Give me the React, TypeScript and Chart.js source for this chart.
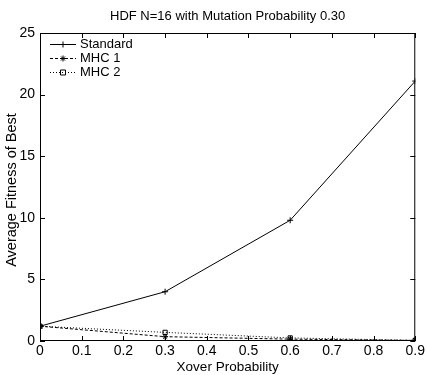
import React, { useEffect, useRef } from "react";
import { Chart, registerables } from "chart.js";

Chart.register(...registerables);

const xValues = [0, 0.3, 0.6, 0.9];
const standardValues = [1.2, 4.0, 9.8, 21.1];
const mhc1Values = [1.2, 0.35, 0.15, 0.05];
const mhc2Values = [1.2, 0.7, 0.25, 0.05];
const xTicks = [0, 0.1, 0.2, 0.3, 0.4, 0.5, 0.6, 0.7, 0.8, 0.9];
const yTicks = [0, 5, 10, 15, 20, 25];
const seriesNames = ["Standard", "MHC 1", "MHC 2"];
const titleText = "HDF N=16 with Mutation Probability 0.30";
const xTitle = "Xover Probability";
const yTitle = "Average Fitness of Best";

const NARROW = "'Liberation Sans Narrow', 'Liberation Sans', Arial, sans-serif";
const FONT = "'Liberation Sans', Arial, sans-serif";

const toPoints = (ys: number[]) => xValues.map((x, i) => ({ x, y: ys[i] }));

const dashes = [[], [3, 2], [1, 2]];
const styles = ["cross", "star", "rect"];

function drawMarker(ctx: CanvasRenderingContext2D, style: string, x: number, y: number) {
  ctx.save();
  ctx.setLineDash([]);
  ctx.lineWidth = 1;
  ctx.strokeStyle = "#000";
  ctx.beginPath();
  if (style === "cross") {
    ctx.moveTo(x - 3, y); ctx.lineTo(x + 3, y);
    ctx.moveTo(x, y - 3); ctx.lineTo(x, y + 3);
  } else if (style === "star") {
    ctx.moveTo(x - 3, y); ctx.lineTo(x + 3, y);
    ctx.moveTo(x, y - 3); ctx.lineTo(x, y + 3);
    ctx.moveTo(x - 2, y - 2); ctx.lineTo(x + 2, y + 2);
    ctx.moveTo(x - 2, y + 2); ctx.lineTo(x + 2, y - 2);
  } else {
    ctx.rect(x - 2.5, y - 2.5, 5, 5);
  }
  ctx.stroke();
  ctx.restore();
}

const framePlugin = {
  id: "frame",
  afterDraw(chart: any) {
    const ctx = chart.ctx as CanvasRenderingContext2D;
    const { left, right, top, bottom } = chart.chartArea;
    const xs = chart.scales.x;
    const ys = chart.scales.y;
    ctx.save();
    ctx.strokeStyle = "#000";
    ctx.lineWidth = 1;
    ctx.setLineDash([]);
    ctx.strokeRect(left + 0.5, top + 0.5, right - left - 1, bottom - top - 1);
    ctx.beginPath();
    const tl = 5;
    xTicks.forEach((v) => {
      const px = Math.round(xs.getPixelForValue(v)) + 0.5;
      ctx.moveTo(px, bottom); ctx.lineTo(px, bottom - tl);
      ctx.moveTo(px, top); ctx.lineTo(px, top + tl);
    });
    yTicks.forEach((v) => {
      const py = Math.round(ys.getPixelForValue(v)) + 0.5;
      ctx.moveTo(left, py); ctx.lineTo(left + tl, py);
      ctx.moveTo(right, py); ctx.lineTo(right - tl, py);
    });
    ctx.stroke();

    // titles
    ctx.fillStyle = "#000";
    ctx.font = `13px ${NARROW}`;
    ctx.textAlign = "center";
    ctx.textBaseline = "middle";
    ctx.fillText(titleText, (left + right) / 2, 16);
    ctx.font = `13.5px ${NARROW}`;
    ctx.fillText(xTitle, (left + right) / 2, 367);
    ctx.save();
    ctx.translate(12, 190);
    ctx.rotate(-Math.PI / 2);
    ctx.font = `14.5px ${FONT}`;
    ctx.fillText(yTitle, 0, 0);
    ctx.restore();

    // legend
    ctx.font = `13px ${NARROW}`;
    ctx.textAlign = "left";
    seriesNames.forEach((name, i) => {
      const y = 44 + i * 14;
      ctx.save();
      ctx.setLineDash(dashes[i]);
      ctx.beginPath();
      ctx.moveTo(50, y + 0.5);
      ctx.lineTo(76, y + 0.5);
      ctx.stroke();
      ctx.restore();
      drawMarker(ctx, styles[i], 63, y + 0.5);
      ctx.fillText(name, 80, y);
    });
    ctx.restore();
  },
};

export default function App() {
  const ref = useRef<HTMLCanvasElement>(null);
  useEffect(() => {
    document.body.style.margin = "0";
    const datasets = [standardValues, mhc1Values, mhc2Values].map((vals, i) => ({
      label: seriesNames[i],
      data: toPoints(vals),
      borderColor: "#000",
      backgroundColor: i === 1 ? "#000" : "rgba(0,0,0,0)",
      borderWidth: 1,
      borderDash: dashes[i],
      pointStyle: styles[i] as any,
      pointRadius: 3,
      pointBorderColor: "#000",
      pointBorderWidth: 1,
      pointBackgroundColor: i === 1 ? "#000" : "rgba(0,0,0,0)",
      tension: 0,
      fill: false,
    }));
    const chart = new Chart(ref.current!, {
      type: "line",
      data: { datasets },
      options: {
        animation: false,
        responsive: false,
        maintainAspectRatio: false,
        layout: { padding: { left: 0, right: 8, top: 33, bottom: 0 } },
        plugins: { legend: { display: false }, title: { display: false }, tooltip: { enabled: false } },
        scales: {
          x: {
            type: "linear",
            min: 0,
            max: 0.9,
            afterBuildTicks: (s: any) => { s.ticks = xTicks.map((v) => ({ value: v })); },
            afterFit: (s: any) => { s.height = 34; },
            grid: { display: false, drawTicks: false },
            border: { display: false },
            ticks: {
              color: "#000",
              font: { family: NARROW, size: 14 },
              padding: 2,
              maxRotation: 0,
              autoSkip: false,
              callback: (v: any) => String(Math.round(Number(v) * 10) / 10),
            },
          },
          y: {
            type: "linear",
            min: 0,
            max: 25,
            afterBuildTicks: (s: any) => { s.ticks = yTicks.map((v) => ({ value: v })); },
            afterFit: (s: any) => { s.width = 40; },
            grid: { display: false, drawTicks: false },
            border: { display: false },
            ticks: {
              color: "#000",
              font: { family: NARROW, size: 14 },
              padding: 5,
              autoSkip: false,
            },
          },
        },
      },
      plugins: [framePlugin],
    });
    return () => chart.destroy();
  }, []);
  return (
    <div style={{ position: "absolute", left: 0, top: 0, width: 427, height: 375, background: "#fff" }}>
      <canvas ref={ref} width={427} height={375} style={{ width: 427, height: 375 }} />
    </div>
  );
}
